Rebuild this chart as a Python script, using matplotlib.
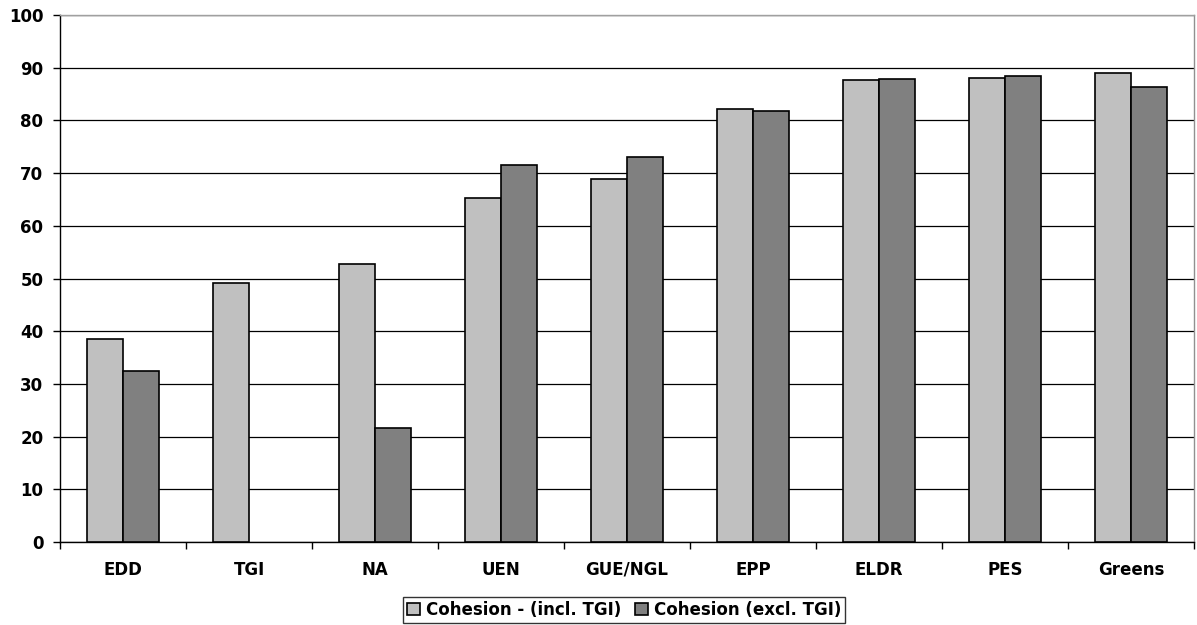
import matplotlib
matplotlib.use("Agg")
import matplotlib.pyplot as plt
import numpy as np

categories = ["EDD", "TGI", "NA", "UEN", "GUE/NGL", "EPP", "ELDR", "PES", "Greens"]
incl_tgi = [38.6, 49.2, 52.8, 65.3, 68.8, 82.2, 87.7, 88.1, 88.9]
excl_tgi = [32.4, np.nan, 21.7, 71.6, 73.0, 81.8, 87.9, 88.4, 86.4]
series_names = ["Cohesion - (incl. TGI)", "Cohesion (excl. TGI)"]
y_ticks = [0, 10, 20, 30, 40, 50, 60, 70, 80, 90, 100]

plt.rcParams['font.family'] = ['DejaVu Sans']
plt.rcParams['font.weight'] = 'bold'
FS = 12

fig = plt.figure(figsize=(11.97, 6.25), dpi=100)
ax = fig.add_axes([60/1197, 83/625, (1194-60)/1197, (542-15)/625])

x = np.arange(len(categories))
w = 0.286
ax.bar(x - w/2, incl_tgi, width=w, color="#c0c0c0", edgecolor="black", linewidth=1.2, label=series_names[0], zorder=3)
ax.bar(x + w/2, excl_tgi, width=w, color="#808080", edgecolor="black", linewidth=1.2, label=series_names[1], zorder=3)

ax.set_xlim(-0.5, len(categories) - 0.5)
ax.set_ylim(0, 100)
ax.set_yticks(y_ticks)
ax.set_yticklabels([str(t) for t in y_ticks], fontsize=FS, fontweight='bold')
ax.yaxis.grid(True, color="black", linewidth=0.9, zorder=0)
ax.set_axisbelow(True)

ax.set_xticks(x)
ax.set_xticklabels(categories, fontsize=FS, fontweight='bold', va='baseline')
ax.set_xticks(np.arange(len(categories) + 1) - 0.5, minor=True)
ax.tick_params(axis='x', which='major', length=0, pad=23.5)
ax.tick_params(axis='x', which='minor', length=5, width=1, direction='out', color='black')
ax.tick_params(axis='y', length=5, width=1, direction='out', pad=7, color='black')

ax.spines['left'].set_color('black')
ax.spines['bottom'].set_color('black')
ax.spines['top'].set_color('#a0a0a0')
ax.spines['right'].set_color('#909090')
for s in ax.spines.values():
    s.set_linewidth(1.0)

leg = fig.legend(loc='lower center', bbox_to_anchor=(624/1197, 2/625), ncol=2,
                 prop={'size': FS, 'weight': 'bold'}, frameon=True, fancybox=False,
                 handlelength=0.8, handleheight=0.8, handletextpad=0.35, columnspacing=0.8,
                 borderpad=0.25, borderaxespad=0)
leg.get_frame().set_edgecolor('black')
leg.get_frame().set_linewidth(1.0)

fig.savefig("out.png", dpi=100)
